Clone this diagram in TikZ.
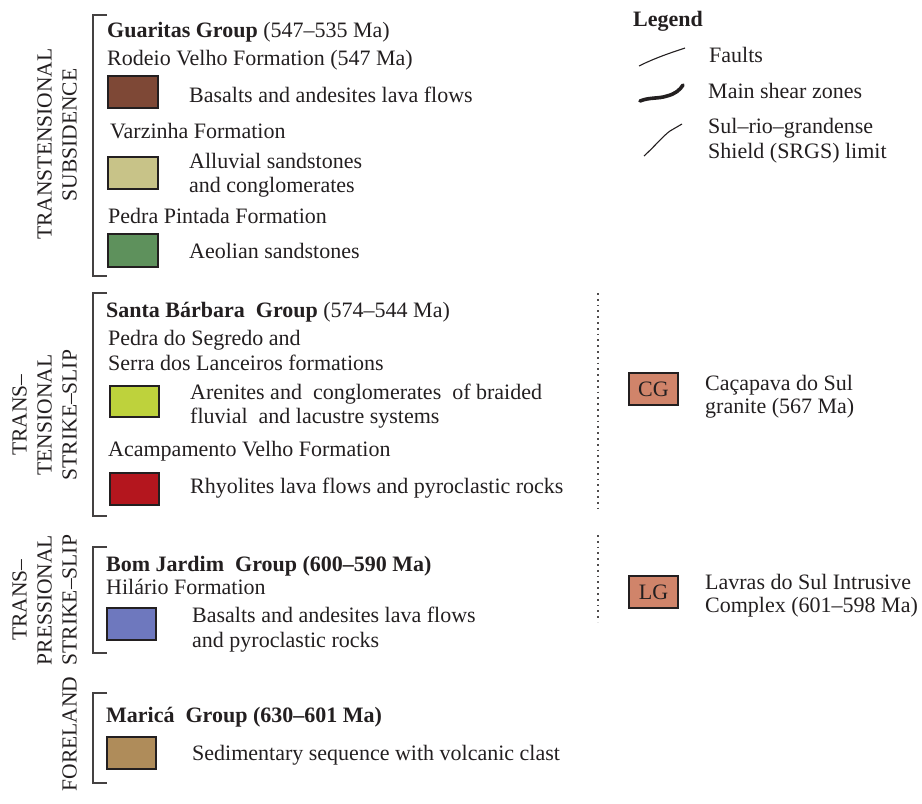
\documentclass[tikz,border=0pt]{standalone}
\usepackage{fontspec}
\setmainfont{Liberation Serif}
\begin{document}
\begin{tikzpicture}[x=1pt,y=-1pt,
  txt/.style={inner sep=0pt, anchor=base west, text=ink, font=\fontsize{22}{24}\selectfont},
  rot/.style={inner sep=0pt, rotate=90, align=center, text=ink, font=\fontsize{21.5}{25}\selectfont},
  swatch/.style={draw=ink, line width=1.3pt},
  brack/.style={draw=ink!85, line width=1.2pt},
  idbox/.style={draw=ink, line width=1.3pt, fill=salmon, minimum width=49pt, minimum height=32pt, inner sep=0pt, text=ink, font=\fontsize{22}{24}\selectfont}
]
\definecolor{ink}{RGB}{35,31,32}
\definecolor{cbrown}{RGB}{126,72,54}
\definecolor{ckhaki}{RGB}{200,195,136}
\definecolor{cgreen}{RGB}{94,145,92}
\definecolor{cyellow}{RGB}{190,210,60}
\definecolor{cred}{RGB}{180,22,30}
\definecolor{cblue}{RGB}{110,120,190}
\definecolor{ctan}{RGB}{175,140,90}
\definecolor{salmon}{RGB}{208,132,106}
\useasboundingbox (0,0) rectangle (922,804);

% ---------- brackets ----------
\draw[brack] (107,15) -- (93,15) -- (93,276) -- (107,276);
\draw[brack] (107,293) -- (93,293) -- (93,516) -- (107,516);
\draw[brack] (107,547) -- (93,547) -- (93,653) -- (107,653);
\draw[brack] (107,693) -- (93,693) -- (93,783) -- (107,783);

% ---------- rotated stage labels ----------
\node[rot] (ts1) at (44.5,144) {TRANSTENSIONAL};
\node[rot] (ts2) at (69.5,135) {SUBSIDENCE};
\node[rot] (tt) at (44.5,415) {TRANS–\\TENSIONAL\\STRIKE–SLIP};
\node[rot] (tp) at (44.5,600) {TRANS–\\PRESSIONAL\\STRIKE–SLIP};
\node[rot] (fl) at (69.5,734) {FORELAND};

% ---------- Guaritas Group ----------
\node[txt] (g0) at (107,37) {\textbf{Guaritas Group} (547–535 Ma)};
\node[txt] (g1) at (107,65) {Rodeio Velho Formation (547 Ma)};
\draw[swatch, fill=cbrown] (108,76) rectangle (158,108);
\node[txt] (g1a) at (189,102) {Basalts and andesites lava flows};
\node[txt] (g2) at (110,138) {Varzinha Formation};
\draw[swatch, fill=ckhaki] (108,157) rectangle (158,189);
\node[txt] (g2a) at (189,168) {Alluvial sandstones};
\node[txt] (g2b) at (189,192) {and conglomerates};
\node[txt] (g3) at (108,223) {Pedra Pintada Formation};
\draw[swatch, fill=cgreen] (108,234) rectangle (158,267);
\node[txt] (g3a) at (189,258) {Aeolian sandstones};

% ---------- Santa Barbara Group ----------
\node[txt] (s0) at (106,317) {\textbf{Santa Bárbara\ \ Group} (574–544 Ma)};
\node[txt] (s1) at (108,345) {Pedra do Segredo and};
\node[txt] (s1b) at (108,370) {Serra dos Lanceiros formations};
\draw[swatch, fill=cyellow] (110,386) rectangle (159,417);
\node[txt] (s1c) at (190,399) {Arenites and\ \ conglomerates\ \ of braided};
\node[txt] (s1d) at (190,423) {fluvial\ \ and lacustre systems};
\node[txt] (s2) at (108,456) {Acampamento Velho Formation};
\draw[swatch, fill=cred] (110,473) rectangle (159,505);
\node[txt] (s2a) at (190,493) {Rhyolites lava flows and pyroclastic rocks};

% ---------- Bom Jardim Group ----------
\node[txt] (b0) at (106,571) {\textbf{Bom Jardim\ \ Group (600–590 Ma)}};
\node[txt] (b1) at (106,594) {Hilário Formation};
\draw[swatch, fill=cblue] (107,608) rectangle (156,640);
\node[txt] (b1a) at (192,622) {Basalts and andesites lava flows};
\node[txt] (b1b) at (192,647) {and pyroclastic rocks};

% ---------- Marica Group ----------
\node[txt] (m0) at (106,722) {\textbf{Maricá\ \ Group (630–601 Ma)}};
\draw[swatch, fill=ctan] (107,737) rectangle (156,769);
\node[txt] (m1) at (192,760) {Sedimentary sequence with volcanic clast};

% ---------- dotted separators ----------
\coordinate (d1a) at (598,293);
\coordinate (d1b) at (598,513);
\coordinate (d2a) at (598,535);
\coordinate (d2b) at (598,622);
\draw[ink!80, line width=1.8pt, dash pattern=on 1.8pt off 4pt] (d1a) -- (d1b);
\draw[ink!80, line width=1.8pt, dash pattern=on 1.8pt off 4pt] (d2a) -- (d2b);

% ---------- intrusive bodies ----------
\node[idbox] (cg) at (653.5,389) {CG};
\node[txt] (cg1) at (705,390) {Caçapava do Sul};
\node[txt] (cg2) at (705,413) {granite (567 Ma)};
\node[idbox] (lg) at (653.5,592) {LG};
\node[txt] (lg1) at (705,589) {Lavras do Sul Intrusive};
\node[txt] (lg2) at (705,612) {Complex (601–598 Ma)};

% ---------- legend ----------
\node[txt] (leg) at (633,26) {\textbf{Legend}};
\draw[ink, line width=1.1pt] (639,66) .. controls (655,58) and (670,53) .. (685,48);
\node[txt] (lf) at (709,62) {Faults};
\draw[ink, line width=3.6pt, line cap=round, line join=round]
  (640,101) .. controls (650,97) and (658,99) .. (667,96) .. controls (675,94) and (680,90) .. (683,85);
\node[txt] (ls) at (708,98) {Main shear zones};
\draw[ink, line width=1.1pt] (644,156) .. controls (655,146) and (663,136) .. (670,131) -- (682,124);
\node[txt] (lb1) at (708,133) {Sul–rio–grandense};
\node[txt] (lb2) at (708,158) {Shield (SRGS) limit};
\end{tikzpicture}
\end{document}
